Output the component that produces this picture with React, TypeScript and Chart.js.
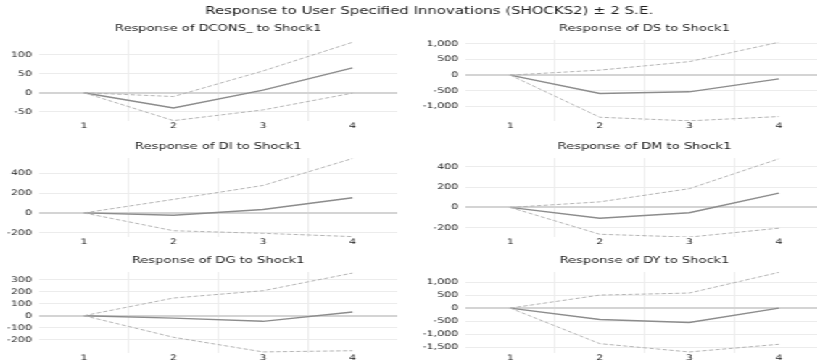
import React, { useEffect, useRef } from "react";
import { Chart, registerables } from "chart.js";

Chart.register(...registerables);

// ---------- data ----------
const periods = ["1", "2", "3", "4"];

const dconsResp = [0, -40, 7, 65];
const dconsUpper = [0, -10, 57, 132];
const dconsLower = [0, -73, -45, -1];
const dconsTicks = [-50, 0, 50, 100];

const dsResp = [0, -590, -535, -122];
const dsUpper = [0, 160, 432, 1052];
const dsLower = [0, -1350, -1465, -1328];
const dsTicks = [-1000, -500, 0, 500, 1000];

const diResp = [0, -23, 34, 153];
const diUpper = [0, 136, 276, 547];
const diLower = [0, -179, -205, -238];
const diTicks = [-200, 0, 200, 400];

const dmResp = [0, -107, -52, 142];
const dmUpper = [0, 55, 185, 480];
const dmLower = [0, -265, -293, -205];
const dmTicks = [-200, 0, 200, 400];

const dgResp = [0, -20, -47, 31];
const dgUpper = [0, 147, 208, 355];
const dgLower = [0, -180, -302, -292];
const dgTicks = [-200, -100, 0, 100, 200, 300];

const dyResp = [0, -440, -555, 0];
const dyUpper = [0, 500, 580, 1375];
const dyLower = [0, -1370, -1690, -1395];
const dyTicks = [-1500, -1000, -500, 0, 500, 1000];

const mainTitle = "Response to User Specified Innovations (SHOCKS2) \u00b1 2 S.E.";

type Panel = {
  title: string;
  resp: number[];
  upper: number[];
  lower: number[];
  ticks: number[];
  min: number;
  max: number;
  col: number;
  row: number;
};

const panels: Panel[] = [
  { title: "Response of DCONS_ to Shock1", resp: dconsResp, upper: dconsUpper, lower: dconsLower, ticks: dconsTicks, min: -74, max: 138, col: 0, row: 0 },
  { title: "Response of DS to Shock1", resp: dsResp, upper: dsUpper, lower: dsLower, ticks: dsTicks, min: -1470, max: 1125, col: 1, row: 0 },
  { title: "Response of DI to Shock1", resp: diResp, upper: diUpper, lower: diLower, ticks: diTicks, min: -242, max: 552, col: 0, row: 1 },
  { title: "Response of DM to Shock1", resp: dmResp, upper: dmUpper, lower: dmLower, ticks: dmTicks, min: -292, max: 488, col: 1, row: 1 },
  { title: "Response of DG to Shock1", resp: dgResp, upper: dgUpper, lower: dgLower, ticks: dgTicks, min: -311, max: 364, col: 0, row: 2 },
  { title: "Response of DY to Shock1", resp: dyResp, upper: dyUpper, lower: dyLower, ticks: dyTicks, min: -1730, max: 1390, col: 1, row: 2 },
];

// ---------- layout (unscaled units; whole figure is stretched horizontally) ----------
const STRETCH = 1.45;
const FONT = "DejaVu Sans";
const AXW = 34;
const PLOTW = 247;
const TITLEH = 22;
const XAXH = 14;
const colX = [-7, 287];
const rowTop = [18, 136, 250];
const plotH = [81, 79, 81];

function TitleChart() {
  const ref = useRef<HTMLCanvasElement | null>(null);
  const w = 592;
  const h = 20;
  useEffect(() => {
    if (!ref.current) return;
    const chart = new Chart(ref.current, {
      type: "line",
      data: { labels: [], datasets: [] },
      options: {
        animation: false,
        responsive: false,
        devicePixelRatio: 1,
        plugins: {
          legend: { display: false },
          tooltip: { enabled: false },
          title: {
            display: true,
            text: mainTitle,
            color: "#1e1e1e",
            font: { family: FONT, size: 10.3, weight: "normal" },
            padding: { top: 5, bottom: 0 },
          },
        },
        scales: { x: { display: false }, y: { display: false } },
      },
    } as any);
    return () => chart.destroy();
  }, []);
  return (
    <canvas
      ref={ref}
      width={w}
      height={h}
      style={{ position: "absolute", left: 0, top: 0, width: w, height: h }}
    />
  );
}

function PanelChart({ p }: { p: Panel }) {
  const ref = useRef<HTMLCanvasElement | null>(null);
  const w = AXW + PLOTW + 2;
  const h = TITLEH + plotH[p.row] + XAXH;

  useEffect(() => {
    if (!ref.current) return;
    const tickFont = { family: FONT, size: 7.6 };
    const chart = new Chart(ref.current, {
      type: "line",
      data: {
        labels: periods,
        datasets: [
          { data: p.upper, borderColor: "#b4b4b4", borderWidth: 1, borderDash: [3, 1.6], pointRadius: 0, tension: 0 },
          { data: p.lower, borderColor: "#b4b4b4", borderWidth: 1, borderDash: [3, 1.6], pointRadius: 0, tension: 0 },
          { data: p.resp, borderColor: "#8c8c8c", borderWidth: 1.4, pointRadius: 0, tension: 0 },
        ],
      },
      options: {
        animation: false,
        responsive: false,
        devicePixelRatio: 1,
        layout: { padding: { left: 0, right: 2, top: 0, bottom: 0 } },
        plugins: {
          legend: { display: false },
          tooltip: { enabled: false },
          title: {
            display: true,
            text: p.title,
            fullSize: false,
            color: "#222",
            font: { family: FONT, size: 9, weight: "normal" },
            padding: { top: 5, bottom: TITLEH - 5 - 10.8 },
          },
        },
        scales: {
          x: {
            type: "category",
            offset: true,
            border: { display: false },
            grid: {
              offset: true,
              drawTicks: false,
              lineWidth: 0.7,
              color: (ctx: any) => (ctx.type === "tick" && ctx.index > 0 ? "#e4e4e4" : "rgba(0,0,0,0)"),
            },
            ticks: { font: tickFont, color: "#1a1a1a", padding: 0.5, maxRotation: 0, autoSkip: false },
            afterFit: (s: any) => {
              s.height = XAXH;
            },
          },
          y: {
            min: p.min,
            max: p.max,
            border: { display: false },
            grid: {
              drawTicks: false,
              color: (ctx: any) => (ctx.tick && ctx.tick.value === 0 ? "#d4d4d4" : "#ececec"),
              lineWidth: (ctx: any) => (ctx.tick && ctx.tick.value === 0 ? 2 : 1),
            },
            ticks: { font: tickFont, color: "#1a1a1a", padding: 5 },
            afterBuildTicks: (s: any) => {
              s.ticks = p.ticks.map((v) => ({ value: v }));
            },
            afterFit: (s: any) => {
              s.width = AXW;
            },
          },
        },
      },
    } as any);
    return () => chart.destroy();
  }, [p]);

  return (
    <canvas
      ref={ref}
      width={w}
      height={h}
      style={{
        position: "absolute",
        left: colX[p.col],
        top: rowTop[p.row],
        width: w,
        height: h,
      }}
    />
  );
}

export default function App() {
  return (
    <div
      style={{
        position: "fixed",
        left: 0,
        top: 0,
        width: 817,
        height: 363,
        overflow: "hidden",
        background: "#fff",
      }}
    >
      <div
        style={{
          position: "absolute",
          left: 0,
          top: 0,
          width: 817 / STRETCH,
          height: 363,
          transform: `scaleX(${STRETCH})`,
          transformOrigin: "0 0",
        }}
      >
        <TitleChart />
        {panels.map((p, i) => (
          <PanelChart key={i} p={p} />
        ))}
      </div>
    </div>
  );
}
